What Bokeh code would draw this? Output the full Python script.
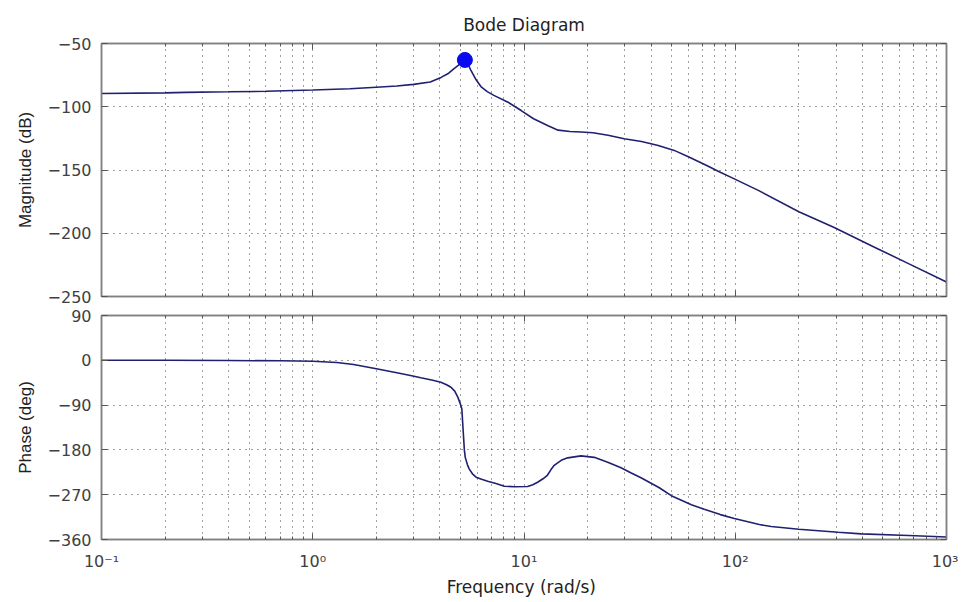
from bokeh.plotting import figure
from bokeh.layouts import column
from bokeh.models import Range1d, FixedTicker, LogAxis, LinearAxis
from bokeh.embed import file_html
from bokeh.resources import INLINE

# ---------------- data ----------------
freq_mag = [0.1, 0.2, 0.25, 0.4, 0.6, 1.0, 1.5, 2.0, 2.5, 3.0, 3.6, 4.05, 4.4,
            4.65, 4.9, 5.1, 5.25, 5.4, 5.6, 5.9, 6.25, 6.7, 7.2, 8.4, 9.7,
            11.1, 13.0, 14.5, 16.5, 18.6, 21.2, 25.0, 29.8, 36.0, 43.2, 51.4,
            60.0, 74.5, 83.0, 99.0, 130.0, 200.0, 294.0, 456.0, 661.0, 1000.0]
mag_db = [-89.5, -89.0, -88.6, -88.2, -87.8, -86.8, -85.8, -84.6, -83.6, -82.3,
          -80.4, -76.8, -73.5, -70.0, -67.0, -64.5, -63.0, -65.5, -71.0, -78.0,
          -84.0, -88.0, -91.0, -96.4, -103.0, -109.5, -115.0, -118.5, -119.6,
          -120.0, -120.6, -122.5, -125.3, -127.5, -130.6, -134.5, -139.5,
          -147.0, -151.0, -157.0, -166.5, -183.0, -195.5, -211.0, -224.0, -238.5]

freq_phase = [0.1, 0.2, 0.4, 0.7, 1.0, 1.3, 1.56, 2.0, 2.5, 2.9, 3.25, 3.7, 4.04,
              4.3, 4.51, 4.7, 4.86, 5.0, 5.08, 5.15, 5.22, 5.27, 5.4, 5.5, 5.7,
              5.93, 6.3, 6.73, 7.3, 8.07, 9.0, 10.4, 11.0, 11.6, 12.3, 12.9, 13.4,
              13.9, 15.0, 16.1, 18.6, 21.5, 24.9, 28.8, 32.0, 35.8, 43.7, 49.8,
              62.0, 71.3, 85.0, 99.0, 130.0, 148.0, 200.0, 307.0, 395.0, 661.0,
              1000.0]
phase_deg = [0.0, 0.0, -0.5, -1.0, -2.0, -4.5, -8.4, -17.0, -25.0, -30.5, -35.0,
             -40.0, -44.0, -49.0, -54.0, -62.0, -74.0, -88.0, -98.0, -140.0,
             -180.0, -195.0, -210.0, -218.0, -228.0, -234.8, -239.0, -242.8,
             -247.0, -253.0, -254.0, -253.5, -250.0, -245.0, -238.0, -231.0,
             -220.0, -211.0, -201.0, -196.0, -192.0, -195.0, -204.7, -216.0,
             -226.0, -236.0, -256.0, -272.0, -290.0, -299.0, -310.0, -318.0,
             -330.0, -334.0, -339.5, -345.5, -348.7, -352.0, -355.0]

peak_freq = [5.25]
peak_db = [-63.0]

x_major_ticks = [0.1, 1, 10, 100, 1000]
x_tick_labels = ["10\u207b\u00b9", "10\u2070", "10\u00b9", "10\u00b2", "10\u00b3"]
mag_ticks = [-250, -200, -150, -100, -50]
phase_ticks = [-360, -270, -180, -90, 0, 90]

# ---------------- styling ----------------
LINE_COLOR = "#202070"
FRAME_COLOR = "#808080"
GRID_COLOR = "#222222"
TICK_FONT = "DejaVu Sans"
LABEL_FONT = "Liberation Sans"

x_minor = [m * 10.0 ** k for k in range(-1, 3) for m in range(2, 10)]


def x_ticker():
    return FixedTicker(ticks=x_major_ticks, minor_ticks=x_minor)


def style_axis(ax, show_labels):
    ax.axis_line_color = FRAME_COLOR
    ax.axis_line_width = 1.5
    ax.major_tick_in = 6
    ax.major_tick_out = 0
    ax.minor_tick_in = 3
    ax.minor_tick_out = 0
    ax.major_tick_line_color = "#555555"
    ax.minor_tick_line_color = "#555555"
    ax.major_label_text_font = TICK_FONT
    ax.major_label_text_font_size = "16px"
    ax.major_label_text_color = "#404040"
    ax.major_label_standoff = 10
    if not show_labels:
        ax.major_label_text_font_size = "1px"
        ax.major_label_text_alpha = 0.0
        ax.major_label_standoff = 0


def style_grid(p, yticks):
    p.xgrid.ticker = x_ticker()
    p.ygrid.ticker = FixedTicker(ticks=yticks)
    for g in (p.xgrid[0], p.ygrid[0]):
        g.grid_line_color = GRID_COLOR
        g.grid_line_dash = "1 5"
        g.grid_line_alpha = 0.85
        g.grid_line_width = 1
    p.xgrid.minor_grid_line_color = GRID_COLOR
    p.xgrid.minor_grid_line_dash = "1 5"
    p.xgrid.minor_grid_line_alpha = 0.85


def make_fig(height, yrange, yticks, ylabel, top_border, bottom_border, show_x_labels):
    p = figure(width=958, height=height, x_axis_type="log",
               x_range=Range1d(0.1, 1000), y_range=Range1d(*yrange),
               output_backend="svg", toolbar_location=None,
               min_border_left=101, min_border_right=12,
               min_border_top=top_border, min_border_bottom=bottom_border,
               background_fill_color="white", border_fill_color="white",
               outline_line_color=FRAME_COLOR, outline_line_width=1.5)
    xa = p.below[0]
    xa.ticker = x_ticker()
    style_axis(xa, show_x_labels)
    if show_x_labels:
        xa.major_label_overrides = dict(zip(x_major_ticks, x_tick_labels))
        xa.major_label_standoff = 12
    ya = p.left[0]
    ya.ticker = FixedTicker(ticks=yticks)
    style_axis(ya, True)
    ya.axis_label = ylabel
    ya.axis_label_text_font = LABEL_FONT
    ya.axis_label_text_font_size = "17px"
    ya.axis_label_text_font_style = "normal"
    ya.axis_label_text_color = "#222222"
    ya.axis_label_standoff = 10

    top_ax = LogAxis(ticker=x_ticker())
    style_axis(top_ax, False)
    p.add_layout(top_ax, "above")
    right_ax = LinearAxis(ticker=FixedTicker(ticks=yticks))
    style_axis(right_ax, False)
    p.add_layout(right_ax, "right")

    style_grid(p, yticks)
    return p, xa


p1, _ = make_fig(306, (-250, -50), mag_ticks, "Magnitude (dB)", 43, 10, False)
p1.title.text = "Bode Diagram"
p1.title.align = "center"
p1.title.text_font = TICK_FONT
p1.title.text_font_size = "17px"
p1.title.text_font_style = "normal"
p1.title.text_color = "#222222"
p1.title.standoff = 17
p1.line(freq_mag, mag_db, line_color=LINE_COLOR, line_width=1.6)
p1.scatter(peak_freq, peak_db, size=15, fill_color="#0a0af0", line_color="#0a0af0")

p2, xb = make_fig(296, (-360, 90), phase_ticks, "Phase (deg)", 9, 63, True)
xb.axis_label = "Frequency  (rad/s)"
xb.axis_label_text_font = TICK_FONT
xb.axis_label_text_font_size = "17px"
xb.axis_label_text_font_style = "normal"
xb.axis_label_text_color = "#222222"
xb.axis_label_standoff = 3
p2.line(freq_phase, phase_deg, line_color=LINE_COLOR, line_width=1.6)

layout = column(p1, p2, spacing=0)

open("out.html", "w").write(file_html(layout, INLINE))
